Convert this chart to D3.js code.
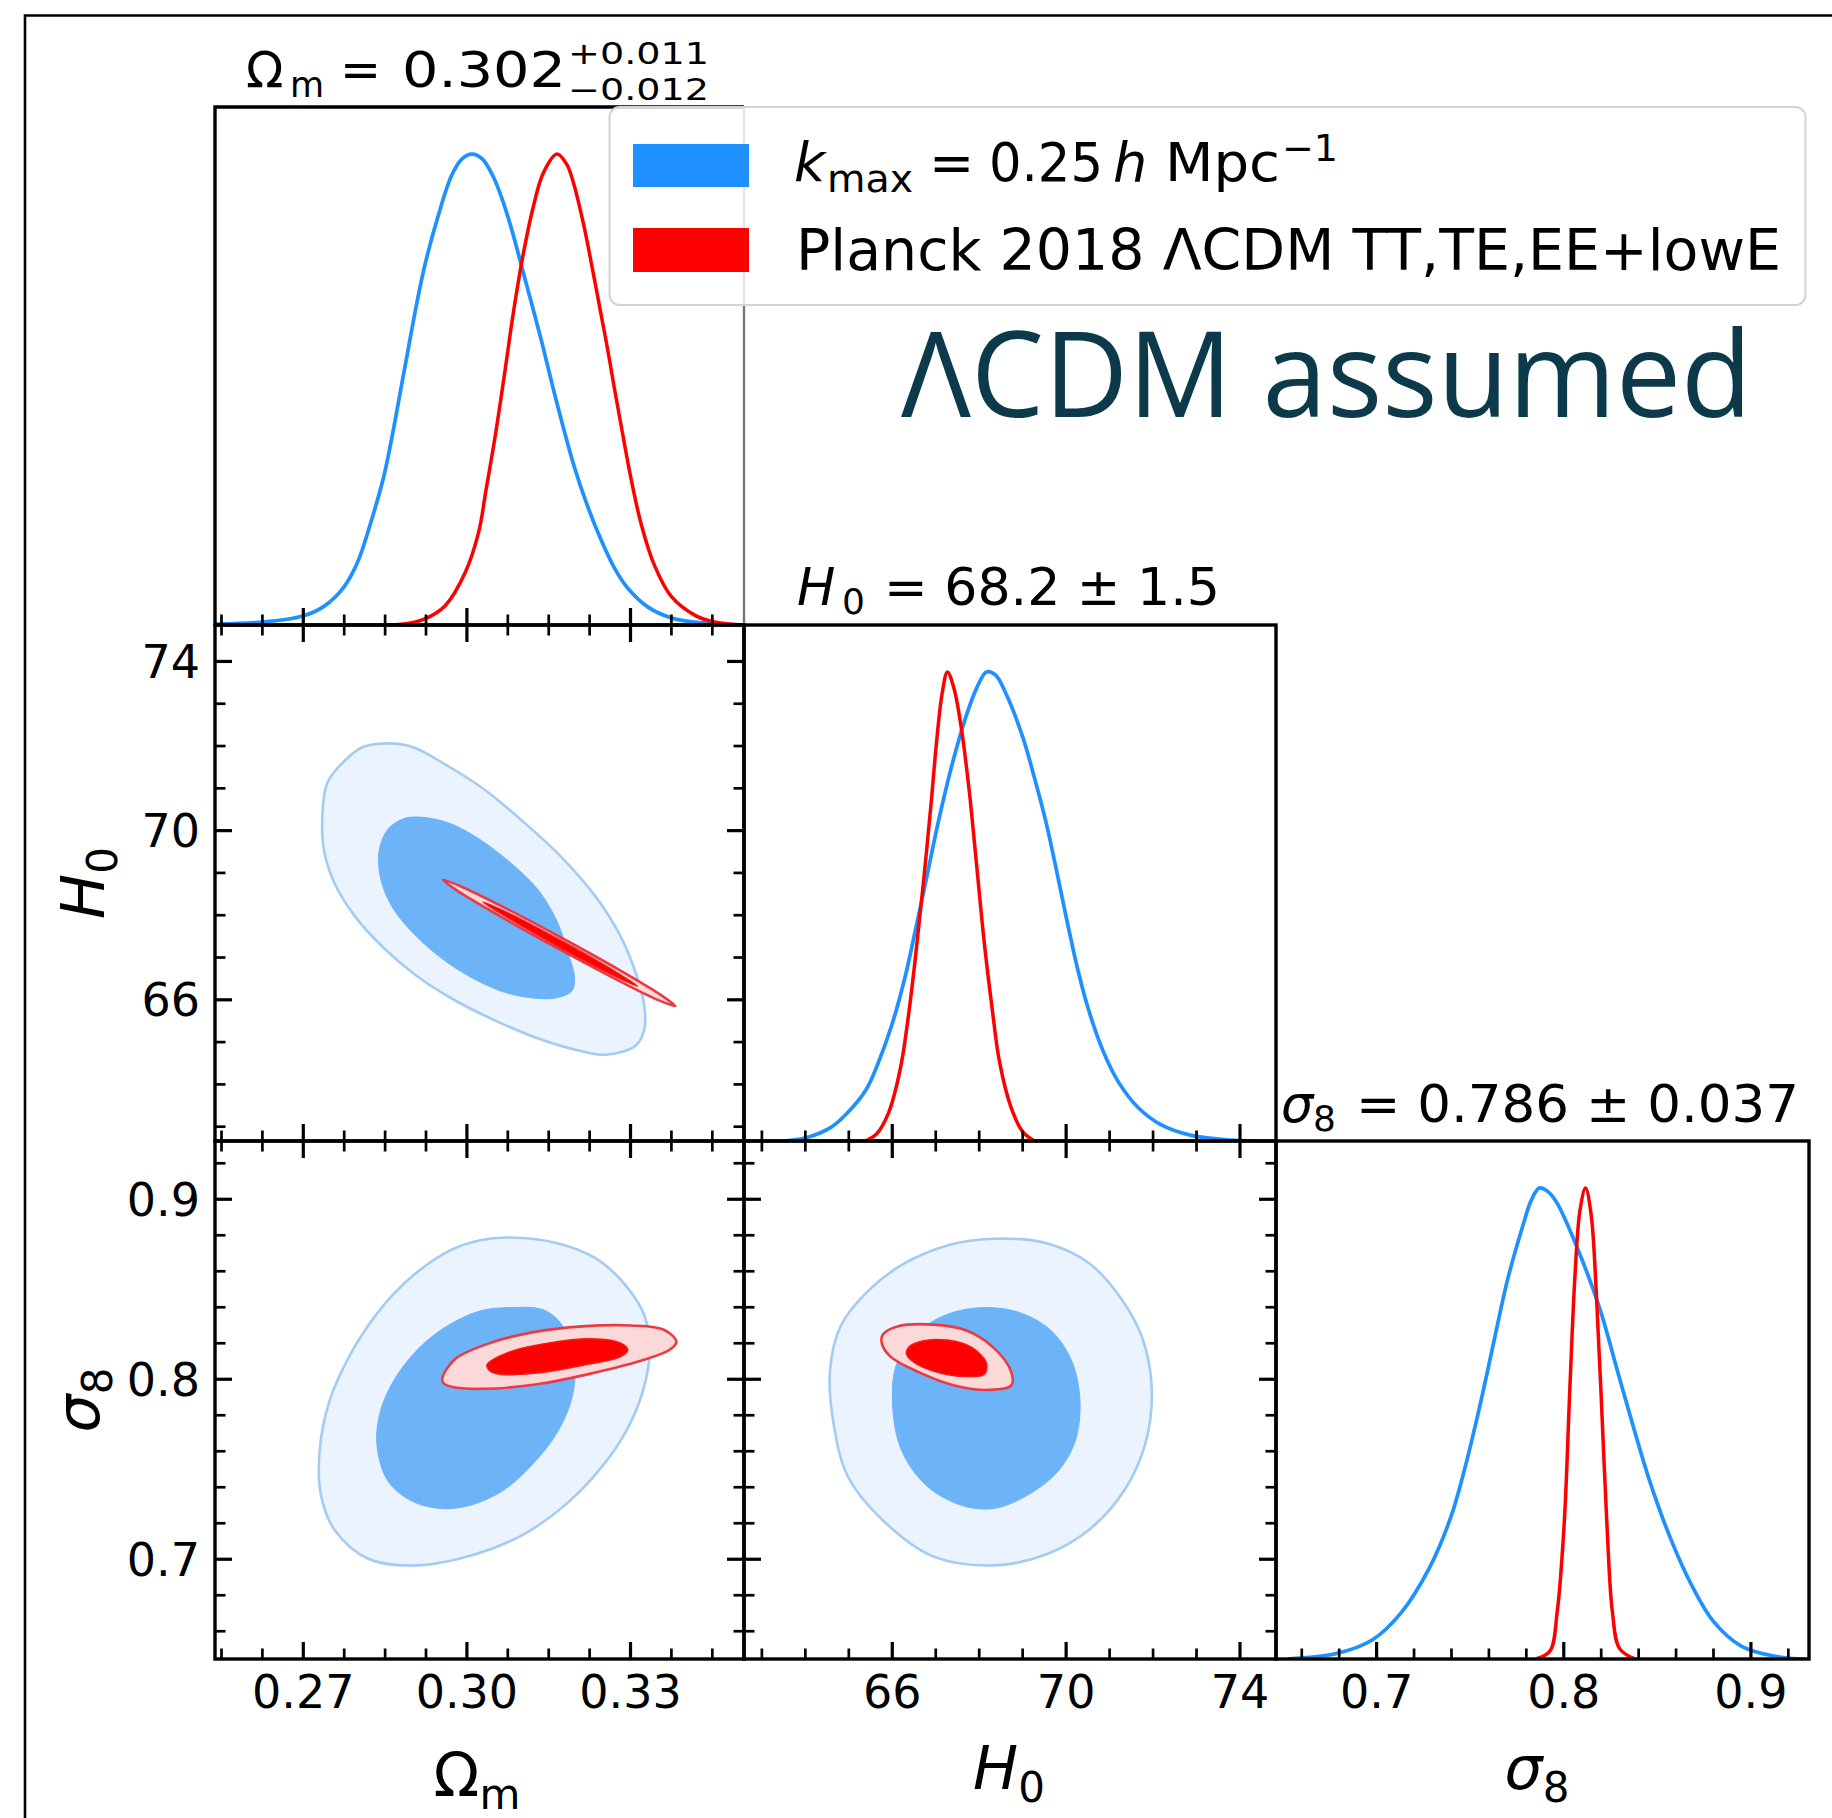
<!DOCTYPE html>
<html>
<head>
<meta charset="utf-8">
<script src="https://cdn.jsdelivr.net/npm/d3@7/dist/d3.min.js"></script>
<style>
  html, body { margin:0; padding:0; background:#fff; }
  svg { display:block; }
</style>
</head>
<body>
<svg id="chart" width="1832" height="1818" xmlns="http://www.w3.org/2000/svg"></svg>
<script>
// ================= DATA =================
const paramNames = ["Ωm", "H0", "σ8"];
const seriesNames = ["kmax = 0.25 h Mpc^-1", "Planck 2018 ΛCDM TT,TE,EE+lowE"];

const omMajor = [0.27, 0.30, 0.33];
const omMinor = [0.255, 0.2625, 0.2775, 0.285, 0.2925, 0.3075, 0.315, 0.3225, 0.3375, 0.345];
const omLabels = ["0.27", "0.30", "0.33"];
const h0Major = [66, 70, 74];
const h0Minor = [63, 64, 65, 67, 68, 69, 71, 72, 73];
const h0Labels = ["66", "70", "74"];
const s8Major = [0.7, 0.8, 0.9];
const s8Minor = [0.66, 0.68, 0.72, 0.74, 0.76, 0.78, 0.82, 0.84, 0.86, 0.88, 0.92];
const s8Labels = ["0.7", "0.8", "0.9"];

// 1D marginals: [value, normalised density]
const omBlue = [[0.2539,0.002],[0.2626,0.006],[0.2700,0.019],[0.2738,0.039],[0.2775,0.080],[0.2800,0.132],[0.2824,0.215],[0.2849,0.318],[0.2862,0.390],[0.2886,0.540],[0.2911,0.695],[0.2924,0.765],[0.2948,0.868],[0.2973,0.955],[0.2992,0.990],[0.3010,1.0],[0.3029,0.990],[0.3048,0.955],[0.3066,0.903],[0.3085,0.832],[0.3103,0.754],[0.3122,0.672],[0.3141,0.588],[0.3159,0.503],[0.3178,0.418],[0.3197,0.339],[0.3221,0.256],[0.3246,0.183],[0.3271,0.122],[0.3296,0.078],[0.3333,0.038],[0.3376,0.015],[0.3420,0.006],[0.3507,0]];
const omRed = [[0.2775,0],[0.2886,0.002],[0.2924,0.013],[0.2961,0.041],[0.2998,0.112],[0.3023,0.200],[0.3035,0.280],[0.3054,0.410],[0.3072,0.550],[0.3085,0.655],[0.3103,0.780],[0.3122,0.885],[0.3141,0.960],[0.3166,1.0],[0.3184,0.978],[0.3197,0.936],[0.3215,0.850],[0.3228,0.775],[0.3246,0.665],[0.3259,0.585],[0.3271,0.505],[0.3283,0.428],[0.3302,0.310],[0.3321,0.212],[0.3345,0.126],[0.3376,0.060],[0.3420,0.020],[0.3457,0.006],[0.3507,0]];
const h0Blue = [[63.55,0],[64.07,0.008],[64.60,0.029],[64.96,0.058],[65.40,0.108],[65.66,0.160],[66.01,0.250],[66.32,0.355],[66.54,0.448],[66.81,0.565],[67.07,0.680],[67.38,0.800],[67.69,0.900],[67.95,0.965],[68.18,1.0],[68.39,0.993],[68.62,0.955],[69.01,0.862],[69.28,0.775],[69.54,0.683],[69.81,0.568],[70.03,0.470],[70.25,0.377],[70.51,0.285],[70.87,0.190],[71.22,0.125],[71.66,0.072],[72.19,0.035],[72.89,0.012],[73.78,0.002],[74.75,0]];
const h0Red = [[65.40,0],[65.66,0.016],[65.93,0.061],[66.19,0.151],[66.37,0.258],[66.54,0.388],[66.72,0.544],[66.90,0.715],[67.03,0.850],[67.16,0.955],[67.28,1.0],[67.43,0.965],[67.60,0.880],[67.78,0.748],[67.95,0.590],[68.13,0.421],[68.31,0.282],[68.48,0.168],[68.75,0.070],[69.01,0.020],[69.28,0]];
const s8Blue = [[0.6526,0],[0.6791,0.012],[0.6981,0.041],[0.7133,0.098],[0.7284,0.193],[0.7398,0.300],[0.7474,0.405],[0.7550,0.530],[0.7626,0.668],[0.7702,0.805],[0.7778,0.912],[0.7830,0.975],[0.7872,1.0],[0.7920,0.992],[0.7967,0.968],[0.8081,0.867],[0.8195,0.744],[0.8290,0.611],[0.8384,0.480],[0.8460,0.380],[0.8574,0.255],[0.8688,0.155],[0.8802,0.080],[0.8953,0.027],[0.9143,0.005],[0.9295,0]];
const s8Red = [[0.7853,0],[0.7929,0.017],[0.7967,0.098],[0.8005,0.288],[0.8035,0.573],[0.8062,0.810],[0.8089,0.952],[0.8119,1.0],[0.8149,0.943],[0.8176,0.782],[0.8203,0.554],[0.8233,0.288],[0.8263,0.098],[0.8301,0.022],[0.8384,0]];

// 2D contours (68% and 95%)
const omH0Blue95 = [[0.2852,72.05],[0.2900,71.97],[0.2963,71.54],[0.3034,70.95],[0.3105,70.19],[0.3176,69.34],[0.3238,68.41],[0.3283,67.48],[0.3310,66.64],[0.3326,65.87],[0.3326,65.28],[0.3310,64.90],[0.3256,64.69],[0.3212,64.77],[0.3141,65.03],[0.3061,65.45],[0.2981,65.96],[0.2909,66.55],[0.2847,67.23],[0.2794,67.99],[0.2758,68.75],[0.2739,69.51],[0.2736,70.36],[0.2745,71.12],[0.2776,71.63],[0.2811,71.97]];
const omH0Blue68 = [[0.2909,70.31],[0.2963,70.19],[0.3016,69.85],[0.3078,69.26],[0.3132,68.58],[0.3167,67.82],[0.3185,67.14],[0.3198,66.55],[0.3194,66.21],[0.3167,66.04],[0.3123,66.03],[0.3069,66.17],[0.3016,66.47],[0.2963,66.89],[0.2909,67.48],[0.2865,68.16],[0.2843,68.84],[0.2840,69.51],[0.2856,70.02],[0.2883,70.26]];
const omH0Red95 = [[0.3383,65.84],[0.3352,65.98],[0.3272,66.49],[0.3165,67.22],[0.3060,67.98],[0.2983,68.57],[0.2957,68.83],[0.2988,68.68],[0.3068,68.18],[0.3175,67.45],[0.3281,66.69],[0.3357,66.10]];
const omH0Red68 = [[0.3314,66.31],[0.3270,66.56],[0.3169,67.24],[0.3070,67.97],[0.3030,68.30],[0.3074,68.06],[0.3175,67.38],[0.3274,66.65]];

const omS8Blue95 = [[0.3078,0.8785],[0.3167,0.8753],[0.3238,0.8667],[0.3292,0.8519],[0.3327,0.8346],[0.3336,0.8148],[0.3323,0.7926],[0.3292,0.7704],[0.3247,0.7506],[0.3185,0.7309],[0.3105,0.7136],[0.3016,0.7025],[0.2909,0.6963],[0.2820,0.7000],[0.2758,0.7161],[0.2733,0.7358],[0.2731,0.7605],[0.2749,0.7877],[0.2785,0.8123],[0.2838,0.8370],[0.2900,0.8568],[0.2972,0.8716],[0.3025,0.8770]];
const omS8Blue68 = [[0.3078,0.8395],[0.3141,0.8383],[0.3176,0.8296],[0.3198,0.8123],[0.3194,0.7901],[0.3167,0.7704],[0.3123,0.7531],[0.3069,0.7383],[0.3007,0.7297],[0.2954,0.7279],[0.2900,0.7321],[0.2856,0.7432],[0.2836,0.7630],[0.2843,0.7827],[0.2874,0.8025],[0.2927,0.8210],[0.2989,0.8334],[0.3034,0.8383]];
const omS8Red95 = [[0.2956,0.8005],[0.2980,0.8111],[0.3043,0.8198],[0.3123,0.8259],[0.3212,0.8291],[0.3301,0.8296],[0.3363,0.8271],[0.3385,0.8205],[0.3372,0.8160],[0.3318,0.8099],[0.3230,0.8030],[0.3141,0.7975],[0.3052,0.7946],[0.2980,0.7951],[0.2958,0.7975]];
const omS8Red68 = [[0.3038,0.8079],[0.3078,0.8148],[0.3149,0.8198],[0.3230,0.8222],[0.3283,0.8198],[0.3296,0.8160],[0.3283,0.8123],[0.3212,0.8074],[0.3123,0.8030],[0.3061,0.8025],[0.3041,0.8049]];

const h0S8Blue95 = [[68.34,0.8778],[69.56,0.8753],[70.54,0.8642],[71.28,0.8444],[71.77,0.8222],[71.98,0.7951],[71.85,0.7654],[71.36,0.7383],[70.54,0.7161],[69.56,0.7025],[68.34,0.6963],[66.95,0.7013],[65.81,0.7210],[64.99,0.7457],[64.66,0.7753],[64.58,0.8050],[64.83,0.8296],[65.48,0.8494],[66.30,0.8642],[67.28,0.8741]];
const h0S8Blue68 = [[68.09,0.8395],[68.91,0.8370],[69.65,0.8271],[70.14,0.8099],[70.33,0.7877],[70.22,0.7654],[69.81,0.7482],[69.07,0.7346],[68.34,0.7279],[67.60,0.7297],[66.79,0.7408],[66.22,0.7605],[66.02,0.7852],[66.10,0.8074],[66.54,0.8247],[67.28,0.8358]];
const h0S8Red95 = [[65.80,0.8247],[66.13,0.8291],[66.95,0.8301],[67.69,0.8271],[68.34,0.8173],[68.75,0.8037],[68.75,0.7963],[68.26,0.7938],[67.44,0.7963],[66.62,0.8037],[65.97,0.8123],[65.77,0.8198]];
const h0S8Red68 = [[66.38,0.8173],[66.70,0.8210],[67.28,0.8215],[67.85,0.8173],[68.18,0.8086],[68.13,0.8025],[67.69,0.8012],[67.03,0.8037],[66.54,0.8086],[66.34,0.8136]];

// ================= LAYOUT =================
const X0 = [215, 744, 1276], X1 = [744, 1276, 1809];
const Y0 = [107, 625, 1141], Y1 = [625, 1141, 1659];
const xDomains = [[0.2539, 0.3509], [62.6, 74.84], [0.6465, 0.9313]];
const yDomains = [null, [62.65, 74.85], [0.6443, 0.9321]];
const majors = [omMajor, h0Major, s8Major];
const minors = [omMinor, h0Minor, s8Minor];
const tickLabels = [omLabels, h0Labels, s8Labels];

const BLUE = "#1e90ff", RED = "#ff0000";
const FONT = "'DejaVu Sans', sans-serif";

const xs = xDomains.map((d, i) => d3.scaleLinear().domain(d).range([X0[i], X1[i]]));
const ys = yDomains.map((d, i) => d ? d3.scaleLinear().domain(d).range([Y1[i], Y0[i]]) : null);
const yDiag = [0, 1, 2].map(i => d3.scaleLinear().domain([0, 1.1]).range([Y1[i], Y0[i]]));

const svg = d3.select("#chart");
svg.append("rect").attr("width", 1832).attr("height", 1818).attr("fill", "#fff");
const defs = svg.append("defs");

function clipFor(r, c) {
  const id = `clip-${r}-${c}`;
  defs.append("clipPath").attr("id", id).append("rect")
    .attr("x", X0[c]).attr("y", Y0[r]).attr("width", X1[c] - X0[c]).attr("height", Y1[r] - Y0[r]);
  return `url(#${id})`;
}

// ---------- 1D panels ----------
const oneD = [[omBlue, omRed], [h0Blue, h0Red], [s8Blue, s8Red]];
oneD.forEach(([b, rd], i) => {
  const g = svg.append("g").attr("clip-path", clipFor(i, i));
  const line = d3.line().x(d => xs[i](d[0])).y(d => yDiag[i](d[1])).curve(d3.curveCatmullRom.alpha(0.5));
  g.append("path").attr("d", line(b)).attr("fill", "none").attr("stroke", BLUE).attr("stroke-width", 3.7);
  g.append("path").attr("d", line(rd)).attr("fill", "none").attr("stroke", RED).attr("stroke-width", 3.5);
});

// ---------- 2D panels ----------
const twoD = [
  { r: 1, c: 0, b95: omH0Blue95, b68: omH0Blue68, r95: omH0Red95, r68: omH0Red68 },
  { r: 2, c: 0, b95: omS8Blue95, b68: omS8Blue68, r95: omS8Red95, r68: omS8Red68 },
  { r: 2, c: 1, b95: h0S8Blue95, b68: h0S8Blue68, r95: h0S8Red95, r68: h0S8Red68 }
];
twoD.forEach(p => {
  const g = svg.append("g").attr("clip-path", clipFor(p.r, p.c));
  const shape = d3.line().x(d => xs[p.c](d[0])).y(d => ys[p.r](d[1])).curve(d3.curveCatmullRomClosed.alpha(0.5));
  g.append("path").attr("d", shape(p.b95)).attr("fill", "#ebf4fe").attr("stroke", "#a3cbf4").attr("stroke-width", 2.6);
  g.append("path").attr("d", shape(p.b68)).attr("fill", "#6cb3f8").attr("stroke", "#6cb3f8").attr("stroke-width", 1);
  g.append("path").attr("d", shape(p.r95)).attr("fill", "#fcd9d9").attr("stroke", "#ec3a44").attr("stroke-width", 2.6);
  g.append("path").attr("d", shape(p.r68)).attr("fill", RED).attr("stroke", "#f21c1c").attr("stroke-width", 1.4);
});

// ---------- ticks ----------
function addTicks(orient, scale, pos, major, minor) {
  const gen = { bottom: d3.axisBottom, top: d3.axisTop, left: d3.axisLeft, right: d3.axisRight }[orient];
  [[major, 17, 3.2], [minor, 10.5, 2.7]].forEach(([vals, len, w]) => {
    const g = svg.append("g")
      .attr("transform", (orient === "bottom" || orient === "top") ? `translate(0,${pos})` : `translate(${pos},0)`)
      .call(gen(scale).tickValues(vals).tickSize(-len).tickFormat(""));
    g.select(".domain").remove();
    g.selectAll("line").attr("stroke", "#000").attr("stroke-width", w);
  });
}
for (let r = 0; r < 3; r++) {
  for (let c = 0; c <= r; c++) {
    addTicks("bottom", xs[c], Y1[r], majors[c], minors[c]);
    if (r !== c) {
      addTicks("top", xs[c], Y0[r], majors[c], minors[c]);
      addTicks("left", ys[r], X0[c], majors[r], minors[r]);
      addTicks("right", ys[r], X1[c], majors[r], minors[r]);
    }
  }
}

// ---------- frames ----------
const frames = svg.append("g").attr("fill", "none").attr("stroke", "#000").attr("stroke-width", 3.4);
for (let r = 0; r < 3; r++) {
  for (let c = 0; c <= r; c++) {
    if (r === 0 && c === 0) {
      frames.append("path").attr("d", `M${X1[c]},${Y0[r]}H${X0[c]}V${Y1[r]}H${X1[c]}`);
      frames.append("path").attr("d", `M${X1[c]},${Y0[r]}V${Y1[r]}`).attr("stroke", "#777").attr("stroke-width", 2.4);
    } else {
      frames.append("rect").attr("x", X0[c]).attr("y", Y0[r]).attr("width", X1[c] - X0[c]).attr("height", Y1[r] - Y0[r]);
    }
  }
}
// outer border of the figure
svg.append("path").attr("d", "M25,1818V15.5H1832").attr("fill", "none").attr("stroke", "#000").attr("stroke-width", 2.6);

// ---------- tick labels ----------
for (let c = 0; c < 3; c++) {
  const g = svg.append("g").attr("transform", `translate(0,${Y1[2]})`)
    .call(d3.axisBottom(xs[c]).tickValues(majors[c]).tickSize(0).tickFormat((d, i) => tickLabels[c][i]));
  g.select(".domain").remove();
  g.attr("font-family", FONT).attr("font-size", 46);
  g.selectAll("text").attr("y", 49).attr("dy", null).attr("fill", "#000");
}
for (let r = 1; r < 3; r++) {
  const g = svg.append("g").attr("transform", `translate(${X0[0]},0)`)
    .call(d3.axisLeft(ys[r]).tickValues(majors[r]).tickSize(0).tickFormat((d, i) => tickLabels[r][i]));
  g.select(".domain").remove();
  g.attr("font-family", FONT).attr("font-size", 46);
  g.selectAll("text").attr("x", -15).attr("dy", "0.36em").attr("fill", "#000");
}

// ---------- text helpers ----------
function txt(s, x, y, size, opts = {}) {
  const t = svg.append("text").attr("x", x).attr("y", y).attr("font-size", size)
    .attr("font-family", opts.family || FONT).attr("fill", opts.fill || "#000").text(s);
  if (opts.italic) t.attr("font-style", "italic");
  if (opts.len) t.attr("textLength", opts.len).attr("lengthAdjust", "spacingAndGlyphs");
  if (opts.anchor) t.attr("text-anchor", opts.anchor);
  return t;
}

// titles above diagonal panels
txt("Ω", 246, 87, 49);
txt("m", 290, 97, 35);
txt("=", 340, 87, 49);
txt("0.302", 402, 87, 49, { len: 164 });
txt("+0.011", 568, 64, 30, { len: 141 });
txt("−0.012", 568, 100, 30, { len: 141 });

txt("H", 797, 605, 51, { italic: true });
txt("0", 842, 614, 36);
txt("= 68.2 ± 1.5", 884, 605, 51, { len: 336 });

txt("σ", 1281, 1122, 51, { italic: true });
txt("8", 1313, 1131, 36);
txt("= 0.786 ± 0.037", 1356, 1122, 51, { len: 443 });

// axis labels
function mathLabel(x, y, main, sub, italic, rotate) {
  const t = svg.append("text").attr("font-family", FONT).attr("text-anchor", "middle").attr("fill", "#000");
  if (rotate) t.attr("transform", `translate(${x},${y}) rotate(-90)`);
  else t.attr("x", x).attr("y", y);
  t.append("tspan").attr("font-size", 60).attr("font-style", italic ? "italic" : "normal").text(main);
  t.append("tspan").attr("font-size", 42).attr("dy", 13).text(sub);
}
mathLabel(477, 1796, "Ω", "m", false, false);
mathLabel(1009, 1789, "H", "0", true, false);
mathLabel(1537, 1789, "σ", "8", true, false);
mathLabel(104, 883, "H", "0", true, true);
mathLabel(99, 1400, "σ", "8", true, true);

// ---------- legend ----------
const leg = svg.append("g");
leg.append("rect").attr("x", 609.5).attr("y", 107).attr("width", 1196).attr("height", 198).attr("rx", 10)
  .attr("fill", "#fff").attr("fill-opacity", 0.8).attr("stroke", "#d3d3d3").attr("stroke-width", 2);
leg.append("rect").attr("x", 633).attr("y", 144).attr("width", 116).attr("height", 43).attr("fill", BLUE);
leg.append("rect").attr("x", 633).attr("y", 228).attr("width", 116).attr("height", 44).attr("fill", RED);
txt("k", 794, 181, 54, { italic: true });
txt("max", 827, 192, 38, { len: 86 });
txt("=", 929, 181, 54);
txt("0.25", 989, 181, 54, { len: 114 });
txt("h", 1113, 181, 54, { italic: true });
txt("Mpc", 1165, 181, 54, { len: 115 });
txt("−1", 1282, 161, 38, { len: 56 });
txt(seriesNames[1], 796, 270, 57, { len: 985 });

// big annotation
txt("ΛCDM assumed", 901, 417, 119, { family: "'Open Sans', sans-serif", fill: "#0d3a4b", len: 851 });
</script>
</body>
</html>
